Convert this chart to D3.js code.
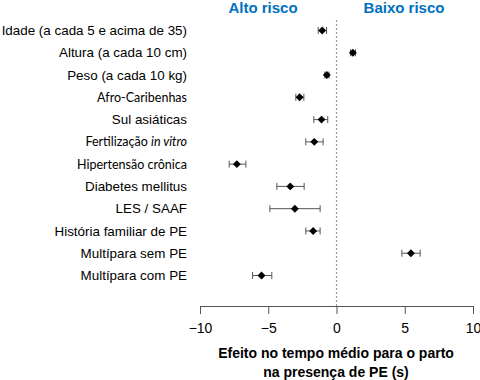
<!DOCTYPE html>
<html>
<head>
<meta charset="utf-8">
<script src="https://cdn.jsdelivr.net/npm/d3@7"></script>
<style>
body{margin:0;background:#fff;}
svg{display:block;}
</style>
</head>
<body>
<script>
//categories, top to bottom
var categories=["Idade (a cada 5 e acima de 35)","Altura (a cada 10 cm)","Peso (a cada 10 kg)",
	"Afro-Caribenhas","Sul asiáticas","Fertilização in vitro","Hipertensão crônica",
	"Diabetes mellitus","LES / SAAF","História familiar de PE","Multípara sem PE","Multípara com PE"];
//point estimates and confidence limits
var estimate=[-1.05,1.2,-0.71,-2.7,-1.1,-1.63,-7.3,-3.39,-3.05,-1.71,5.45,-5.49];
var lower=[-1.34,1.03,-0.85,-2.98,-1.66,-2.25,-7.86,-4.37,-4.88,-2.25,4.79,-6.15];
var upper=[-0.73,1.39,-0.55,-2.39,-0.64,-0.98,-6.64,-2.37,-1.2,-1.2,6.13,-4.74];
//labels drawn in the smaller font
var smallLabels=["Afro-Caribenhas","Fertilização in vitro","Hipertensão crônica"];
var ticks=[-10,-5,0,5,10];

var width=480,height=380;

var svg=d3.select("body").append("svg")
	.attr("width",width)
	.attr("height",height);

var x=d3.scaleLinear().domain([-10,10]).range([200,473]);
var y=d3.scalePoint().domain(categories).range([30.5,275.5]);

//reference line at zero
svg.append("line")
	.attr("x1",x(0)).attr("x2",x(0))
	.attr("y1",20).attr("y2",306)
	.attr("stroke","#999").attr("stroke-width",1.2)
	.attr("stroke-dasharray","2,2");

//risk headers
svg.append("text").attr("x",263).attr("y",13)
	.attr("text-anchor","middle")
	.style("font","bold 15px 'Liberation Sans',Arial,sans-serif")
	.attr("fill","#0070C0").text("Alto risco");
svg.append("text").attr("x",404).attr("y",13)
	.attr("text-anchor","middle")
	.style("font","bold 15px 'Liberation Sans',Arial,sans-serif")
	.attr("fill","#0070C0").text("Baixo risco");

//category labels
var labels=svg.selectAll(".lab")
	.data(categories)
	.enter()
	.append("text")
	.attr("class","lab")
	.attr("x",187)
	.attr("y",function(d){return y(d);})
	.attr("dy","0.35em")
	.attr("text-anchor","end")
	.attr("fill","#000")
	.style("font",function(d){
		return smallLabels.indexOf(d)>=0 ? "12.5px Lato,'Open Sans',sans-serif" : "13.4px 'Liberation Sans',Arial,sans-serif";
	});
labels.each(function(d){
	var t=d3.select(this);
	if(d.indexOf("in vitro")>=0){
		t.append("tspan").text(d.replace("in vitro",""));
		t.append("tspan").style("font-style","italic").text("in vitro");
	}else{
		t.text(d);
	}
});

//error bars
var rows=categories.map(function(c,i){return {c:c,est:estimate[i],lo:lower[i],hi:upper[i]};});
var g=svg.selectAll(".row").data(rows).enter().append("g").attr("class","row");
g.append("line")
	.attr("x1",function(d){return x(d.lo);}).attr("x2",function(d){return x(d.hi);})
	.attr("y1",function(d){return y(d.c);}).attr("y2",function(d){return y(d.c);})
	.attr("stroke","#555").attr("stroke-width",1);
g.append("line")
	.attr("x1",function(d){return x(d.lo);}).attr("x2",function(d){return x(d.lo);})
	.attr("y1",function(d){return y(d.c)-3.5;}).attr("y2",function(d){return y(d.c)+3.5;})
	.attr("stroke","#555").attr("stroke-width",1);
g.append("line")
	.attr("x1",function(d){return x(d.hi);}).attr("x2",function(d){return x(d.hi);})
	.attr("y1",function(d){return y(d.c)-3.5;}).attr("y2",function(d){return y(d.c)+3.5;})
	.attr("stroke","#555").attr("stroke-width",1);
g.append("path")
	.attr("d",d3.symbol().type(d3.symbolDiamond2).size(40))
	.attr("transform",function(d){return "translate("+x(d.est)+","+y(d.c)+")";})
	.attr("fill","#000");

//x axis
var axis=svg.append("g")
	.attr("transform","translate(0,306)")
	.call(d3.axisBottom(x).tickValues(ticks).tickSize(8).tickSizeOuter(0).tickPadding(9));
axis.select(".domain").attr("stroke","#555");
axis.selectAll(".tick line").attr("stroke","#555");
axis.selectAll("text")
	.style("font","14px 'Liberation Sans',Arial,sans-serif")
	.attr("fill","#000");

//axis title
svg.append("text").attr("x",336).attr("y",358)
	.attr("text-anchor","middle")
	.style("font","bold 14px 'Liberation Sans',Arial,sans-serif")
	.text("Efeito no tempo médio para o parto");
svg.append("text").attr("x",336).attr("y",377)
	.attr("text-anchor","middle")
	.style("font","bold 14px 'Liberation Sans',Arial,sans-serif")
	.text("na presença de PE (s)");
</script>
</body>
</html>
